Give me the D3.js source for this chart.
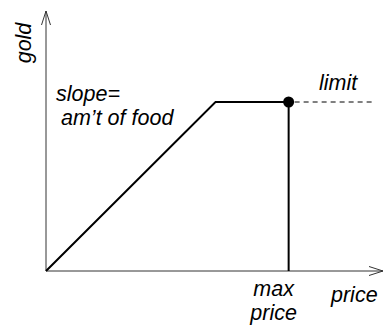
<!DOCTYPE html>
<html>
<head>
<meta charset="utf-8">
<script src="https://cdn.jsdelivr.net/npm/d3@7"></script>
<style>
  html, body { margin: 0; padding: 0; background: #fff; }
  svg text { font-family: "Liberation Sans", Arial, sans-serif; font-style: italic; font-size: 21.5px; fill: #000; }
</style>
</head>
<body>
<svg id="chart" width="384" height="326"></svg>
<script>
// ---- data (abstract units) ----
const xAxisMax = 10;          // end of price axis
const yAxisMax = 10;          // end of gold axis
const kinkPoint = [5.03, 6.5];  // where slope meets limit
const maxPrice = 7.2;          // max price
const limitValue = 6.5;        // gold limit
const dashEnd = 9.7;           // end of dashed limit line
const budgetLine = [[0, 0], kinkPoint, [maxPrice, limitValue]];
const labels = { y: "gold", x: "price", slope: ["slope=", "am\u2019t of food"], limit: "limit", maxPrice: ["max", "price"] };

const svg = d3.select("#chart");
const x = d3.scaleLinear().domain([0, xAxisMax]).range([46, 383]);
const y = d3.scaleLinear().domain([0, yAxisMax]).range([271, 11]);

// axes
const axisColor = "#333";
svg.append("line").attr("x1", x(0)).attr("y1", y(0)).attr("x2", x(xAxisMax)).attr("y2", y(0))
  .attr("stroke", axisColor).attr("stroke-width", 1);
svg.append("line").attr("x1", x(0)).attr("y1", y(0)).attr("x2", x(0)).attr("y2", y(yAxisMax))
  .attr("stroke", axisColor).attr("stroke-width", 1);
// arrowheads (open)
svg.append("path")
  .attr("d", `M${x(xAxisMax) - 14},${y(0) - 4.5} L${x(xAxisMax)},${y(0)} L${x(xAxisMax) - 14},${y(0) + 4.5}`)
  .attr("fill", "none").attr("stroke", axisColor).attr("stroke-width", 1);
svg.append("path")
  .attr("d", `M${x(0) - 4.5},${y(yAxisMax) + 14} L${x(0)},${y(yAxisMax)} L${x(0) + 4.5},${y(yAxisMax) + 14}`)
  .attr("fill", "none").attr("stroke", axisColor).attr("stroke-width", 1);

// budget line
const line = d3.line().x(d => x(d[0])).y(d => y(d[1]));
svg.append("path").datum(budgetLine).attr("d", line)
  .attr("fill", "none").attr("stroke", "#000").attr("stroke-width", 2).attr("stroke-linejoin", "miter");

// vertical at max price
svg.append("line").attr("x1", x(maxPrice)).attr("y1", y(limitValue)).attr("x2", x(maxPrice)).attr("y2", y(0))
  .attr("stroke", "#000").attr("stroke-width", 2);

// dashed limit
svg.append("line").attr("x1", x(maxPrice) + 6).attr("y1", y(limitValue)).attr("x2", x(dashEnd)).attr("y2", y(limitValue))
  .attr("stroke", "#000").attr("stroke-width", 1).attr("stroke-dasharray", "5,4");

// dot
svg.append("circle").attr("cx", x(maxPrice)).attr("cy", y(limitValue)).attr("r", 5.5).attr("fill", "#000");

// labels
svg.append("text").attr("transform", `translate(31,43) rotate(-90)`).attr("text-anchor", "middle").text(labels.y);

svg.append("text").attr("x", 56).attr("y", 101).text(labels.slope[0]);
svg.append("text").attr("x", 61).attr("y", 125).text(labels.slope[1]);

svg.append("text").attr("x", 319).attr("y", 90).text(labels.limit);

svg.append("text").attr("text-anchor", "middle").attr("x", x(maxPrice) - 15).attr("y", 296).text(labels.maxPrice[0]);
svg.append("text").attr("text-anchor", "middle").attr("x", x(maxPrice) - 15).attr("y", 320).text(labels.maxPrice[1]);

svg.append("text").attr("x", 331).attr("y", 302).text(labels.x);
</script>
</body>
</html>
